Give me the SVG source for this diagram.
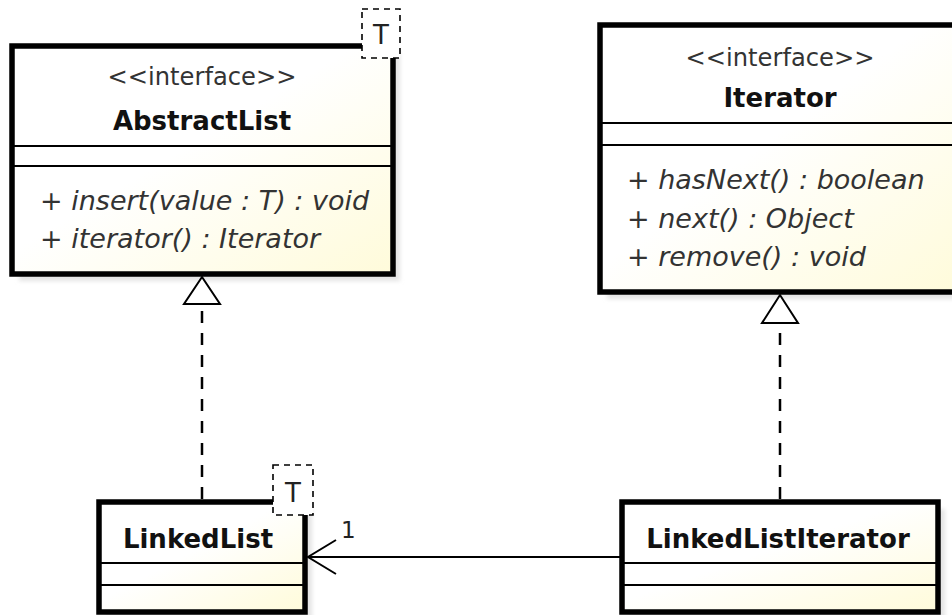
<svg xmlns="http://www.w3.org/2000/svg" width="952" height="615" viewBox="0 0 952 615">
<defs>
<linearGradient id="fill" x1="0" y1="0" x2="1" y2="1">
<stop offset="0" stop-color="#FFFFFF"/>
<stop offset="0.45" stop-color="#FFFFFF"/>
<stop offset="1" stop-color="#FFFBDA"/>
</linearGradient>
<filter id="blur" x="-10%" y="-10%" width="120%" height="120%"><feGaussianBlur stdDeviation="2"/></filter>
<marker id="open" markerWidth="40" markerHeight="40" refX="29" refY="18" orient="auto" markerUnits="userSpaceOnUse">
<path d="M1,1 L29,18 L1,35" fill="none" stroke="#000" stroke-width="2"/>
</marker>
</defs>
<style>
.box{fill:url(#fill);stroke:#000;stroke-width:5.5}
.shadow{fill:#E4E4E4;filter:url(#blur)}
.sep{stroke:#000;stroke-width:2}
.tbox{fill:#FFFFFF;stroke:#000;stroke-width:1.6;stroke-dasharray:6,5}
.st{font-family:"DejaVu Sans",sans-serif;font-size:24px;fill:#333;text-anchor:middle}
.nm{font-family:"DejaVu Sans",sans-serif;font-size:26px;font-weight:bold;fill:#111;text-anchor:middle}
.op{font-family:"DejaVu Sans",sans-serif;font-size:27px;font-style:italic;fill:#333}
.tp{font-family:"DejaVu Sans",sans-serif;font-size:26px;fill:#222;text-anchor:middle}
.dash{stroke:#000;stroke-width:2.5;stroke-dasharray:12,10;fill:none}
.tri{fill:#FFF;stroke:#000;stroke-width:2}
.assoc{stroke:#000;stroke-width:2;fill:none}
.mult{font-family:"DejaVu Sans",sans-serif;font-size:23px;fill:#222}
</style>

<g id="AbstractList">
<rect class="shadow" x="19" y="53" width="381" height="228"/>
<rect class="box" x="12" y="46" width="381" height="228"/>
<line class="sep" x1="12" y1="146" x2="393" y2="146"/>
<line class="sep" x1="12" y1="166" x2="393" y2="166"/>
<text class="st" x="202" y="85" textLength="189" lengthAdjust="spacingAndGlyphs">&lt;&lt;interface&gt;&gt;</text>
<text class="nm" x="202" y="130">AbstractList</text>
<text class="op" x="40" y="210">+ insert(value : T) : void</text>
<text class="op" x="40" y="248">+ iterator() : Iterator</text>
<rect class="tbox" x="362" y="9" width="38" height="49"/>
<text class="tp" x="381" y="44">T</text>
</g>

<g id="Iterator">
<rect class="shadow" x="607" y="32" width="360" height="267"/>
<rect class="box" x="600" y="25" width="360" height="267"/>
<line class="sep" x1="600" y1="123" x2="960" y2="123"/>
<line class="sep" x1="600" y1="145" x2="960" y2="145"/>
<text class="st" x="780" y="66" textLength="189" lengthAdjust="spacingAndGlyphs">&lt;&lt;interface&gt;&gt;</text>
<text class="nm" x="780" y="107">Iterator</text>
<text class="op" x="627" y="189">+ hasNext() : boolean</text>
<text class="op" x="627" y="228">+ next() : Object</text>
<text class="op" x="627" y="266">+ remove() : void</text>
</g>

<g id="LinkedList">
<rect class="shadow" x="106" y="509" width="206" height="110"/>
<rect class="box" x="99" y="502" width="206" height="110"/>
<line class="sep" x1="99" y1="563" x2="305" y2="563"/>
<line class="sep" x1="99" y1="585" x2="305" y2="585"/>
<text class="nm" x="198" y="548">LinkedList</text>
<rect class="tbox" x="273" y="465" width="40" height="50"/>
<text class="tp" x="293" y="502">T</text>
</g>

<g id="LinkedListIterator">
<rect class="shadow" x="629" y="509" width="316" height="110"/>
<rect class="box" x="622" y="502" width="316" height="110"/>
<line class="sep" x1="622" y1="563" x2="938" y2="563"/>
<line class="sep" x1="622" y1="585" x2="938" y2="585"/>
<text class="nm" x="778" y="548">LinkedListIterator</text>
</g>

<g id="connectors">
<line class="dash" x1="202" y1="499" x2="202" y2="304"/>
<polygon class="tri" points="202,277 184,304 220,304"/>
<line class="dash" x1="780" y1="499" x2="780" y2="323"/>
<polygon class="tri" points="780,295 762,323 798,323"/>
<line class="assoc" x1="620" y1="557" x2="308" y2="557" marker-end="url(#open)"/>
<text class="mult" x="341" y="538">1</text>
</g>
</svg>
